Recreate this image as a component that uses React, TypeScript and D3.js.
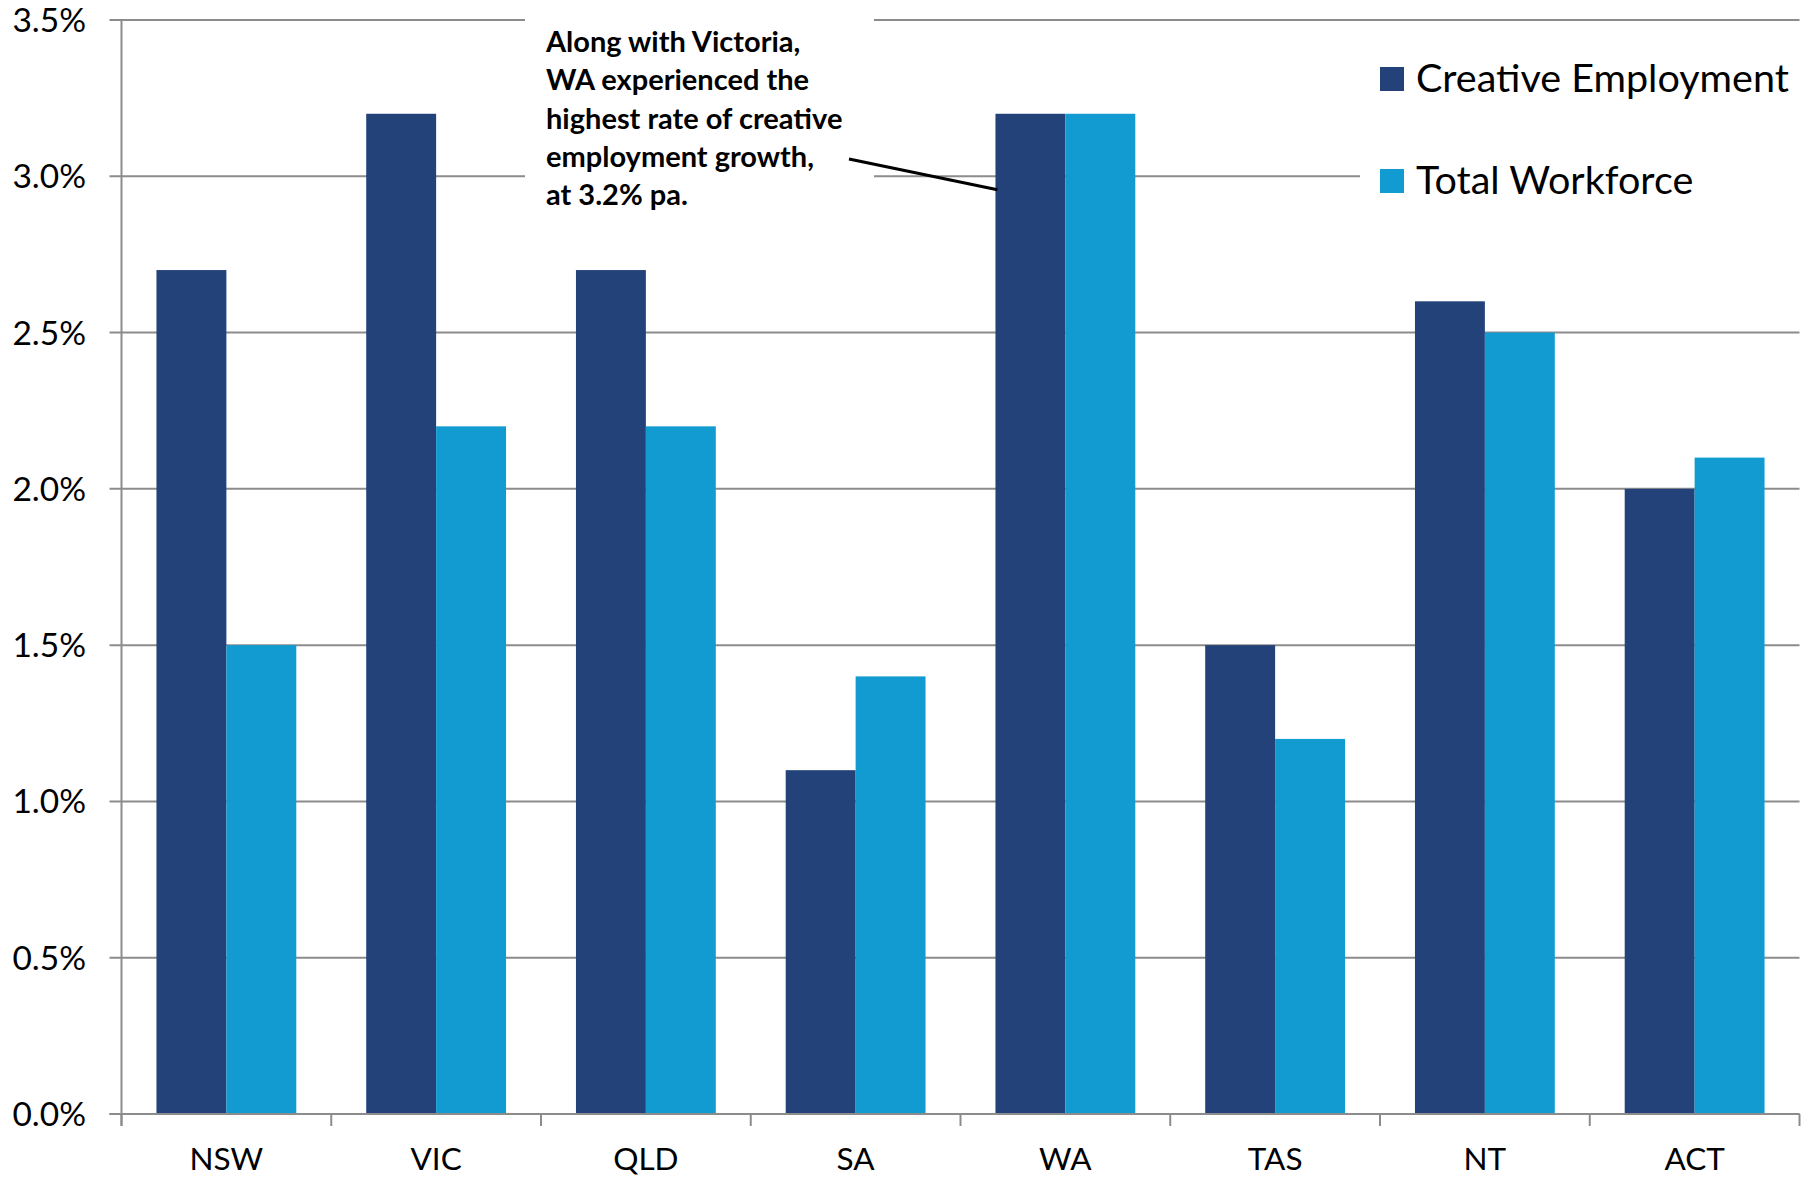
import React from "react";
import * as d3 from "d3";

// Annual employment growth by state/territory
const states = ["NSW", "VIC", "QLD", "SA", "WA", "TAS", "NT", "ACT"];
const creativeEmployment = [2.7, 3.2, 2.7, 1.1, 3.2, 1.5, 2.6, 2.0];
const totalWorkforce = [1.5, 2.2, 2.2, 1.4, 3.2, 1.2, 2.5, 2.1];
const seriesNames = ["Creative Employment", "Total Workforce"];
const seriesColors = ["#23427A", "#119BD1"];
const yTicks = [0, 0.5, 1.0, 1.5, 2.0, 2.5, 3.0, 3.5];
const calloutLines = [
  "Along with Victoria,",
  "WA experienced the",
  "highest rate of creative",
  "employment growth,",
  "at 3.2% pa.",
];
const calloutState = "WA";

const W = 1810;
const H = 1179;
const FONT = "Lato, 'Open Sans', sans-serif";
const GRID = "#8C8C8C";

export default function App() {
  const left = 121.5;
  const right = 1799.5;
  const top = 20;
  const bottom = 1114;

  const x = d3.scaleBand<string>().domain(states).range([left, right]).paddingInner(0).paddingOuter(0);
  const y = d3.scaleLinear().domain([0, 3.5]).range([bottom, top]);
  // two bars of one third of the band each, centred in the band
  const barW = x.bandwidth() / 3;
  const barX = (s: string, k: number) => (x(s) as number) + barW / 2 + k * barW;

  const series = [creativeEmployment, totalWorkforce];
  const fmt = d3.format(".1f");

  const boundaries = states.map((s) => x(s) as number).concat([right]);

  // callout leader line ends on the creative bar of the highlighted state
  const ci = states.indexOf(calloutState);
  const tipX = barX(calloutState, 0) + 2;
  const tipY = y(creativeEmployment[ci]) + 76;

  return (
    <svg
      width={W}
      height={H}
      style={{ position: "absolute", left: 0, top: 0, background: "#fff" }}
      fontFamily={FONT}
    >
      {/* gridlines with outward ticks */}
      {yTicks.map((t) => (
        <line
          key={"g" + t}
          x1={left - 12}
          x2={right}
          y1={y(t)}
          y2={y(t)}
          stroke={GRID}
          strokeWidth={2}
        />
      ))}
      {yTicks.map((t) => (
        <text
          key={"yl" + t}
          x={86}
          y={y(t)}
          dy="0.36em"
          textAnchor="end"
          fontSize={33.5}
          fill="#000"
        >
          {fmt(t) + "%"}
        </text>
      ))}

      {/* bars */}
      {series.map((vals, k) =>
        states.map((s, i) => (
          <rect
            key={`b${k}-${s}`}
            x={barX(s, k)}
            y={y(vals[i])}
            width={barW}
            height={bottom - y(vals[i])}
            fill={seriesColors[k]}
          />
        ))
      )}

      {/* axes */}
      <line x1={left} x2={left} y1={top} y2={bottom + 12} stroke={GRID} strokeWidth={2} />
      <line x1={left - 12} x2={right} y1={bottom} y2={bottom} stroke={GRID} strokeWidth={2} />
      {boundaries.map((bx, i) => (
        <line key={"xt" + i} x1={bx} x2={bx} y1={bottom} y2={bottom + 12} stroke={GRID} strokeWidth={2} />
      ))}
      {states.map((s) => (
        <text
          key={"xl" + s}
          x={(x(s) as number) + x.bandwidth() / 2}
          y={1170}
          textAnchor="middle"
          fontSize={31.5}
          fill="#000"
        >
          {s}
        </text>
      ))}

      {/* callout */}
      <rect x={525} y={8} width={349} height={210} fill="#fff" />
      {calloutLines.map((l, i) => (
        <text key={"c" + i} x={546} y={52 + i * 38.3} fontSize={29} fontWeight="bold" fill="#000">
          {l}
        </text>
      ))}
      <line x1={849} y1={159} x2={tipX} y2={tipY} stroke="#000" strokeWidth={3.2} />

      {/* legend */}
      <rect x={1360} y={28} width={445} height={196} fill="#fff" />
      {seriesNames.map((n, k) => (
        <g key={"lg" + n}>
          <rect x={1380} y={67 + k * 102} width={24} height={24} fill={seriesColors[k]} />
          <text x={1416} y={92 + k * 102} fontSize={39.5} fill="#000">
            {n}
          </text>
        </g>
      ))}
    </svg>
  );
}
